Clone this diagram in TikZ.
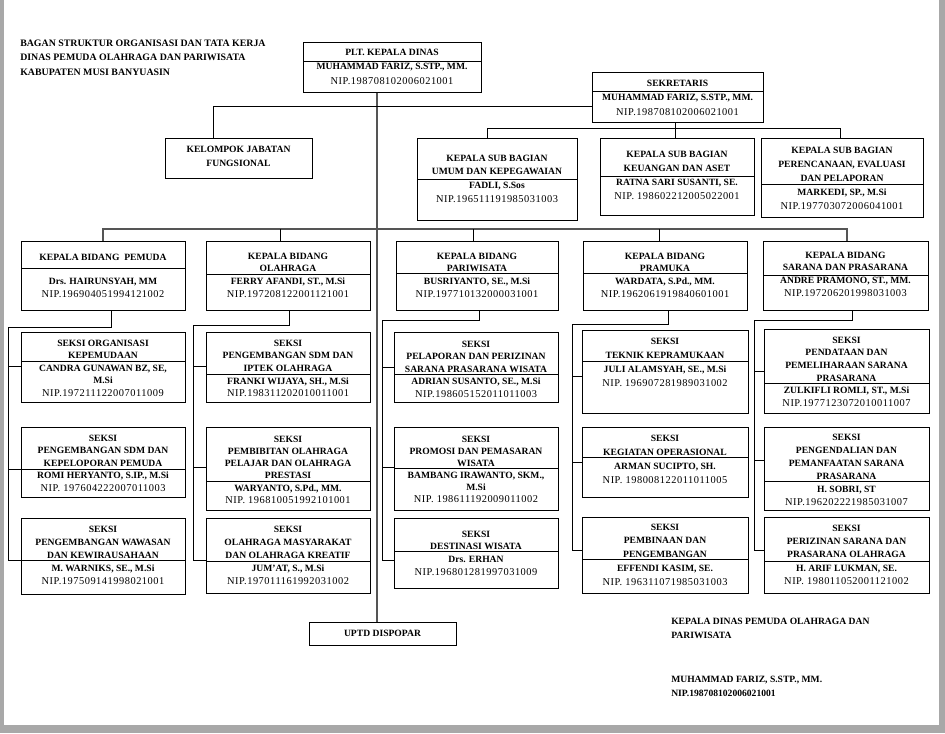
\documentclass[tikz,border=0pt]{standalone}
\usepackage{fontspec}
\setmainfont{Liberation Serif}
\newfontfamily\nipfont[LetterSpace=5]{Liberation Serif}
\usetikzlibrary{fit}
\definecolor{pagegray}{HTML}{A8A8A8}
\definecolor{linegray}{HTML}{555555}
\newcommand\nip[1]{{\nipfont\mdseries\fontsize{7.8}{\the\baselineskip}\selectfont #1}}
\tikzset{
  boxsty/.style={draw=black, line width=0.75pt, inner sep=0pt, fill=none},
  divsty/.style={draw=black, line width=0.75pt},
  conn/.style={draw=black, line width=0.75pt},
  conng/.style={draw=linegray, line width=0.9pt},
  txtsty/.style={inner sep=0pt, align=center},
  plaintxt/.style={inner sep=0pt, align=left, anchor=north west}
}
% #1 baselineskip (pt), #2 name, #3 x1, #4 y1, #5 x2, #6 y2, #7 divider y, #8 first line y, #9 text
\newcommand\ob[9][9.4]{%
  \node[boxsty, fit={(#3,#4)(#5,#6)}] (#2) {};
  \draw[divsty] (#3,#7) -- (#5,#7);
  \node[txtsty, anchor=north, font={\fontsize{7.2}{#1}\selectfont\bfseries}] (#2-t) at ({(#3+#5)/2},{#8-3.6}) {#9};
}
\begin{document}
\begin{tikzpicture}[x=0.75pt,y=-0.75pt]
\useasboundingbox (0,0) rectangle (945,733);
\fill[pagegray] (0,0) rectangle (945,733);
\fill[white] (4,0) rectangle (939,725);

% title
\node[plaintxt, font={\fontsize{7.4}{10.9}\selectfont\bfseries}] (title) at (20,39.5)
  {BAGAN STRUKTUR ORGANISASI DAN TATA KERJA\\DINAS PEMUDA OLAHRAGA DAN PARIWISATA\\KABUPATEN MUSI BANYUASIN};

% top
\ob[10.9]{plt}{303}{42}{481}{92}{61}{52}{PLT. KEPALA DINAS\\MUHAMMAD FARIZ, S.STP., MM.\\\nip{NIP.198708102006021001}}
\node[boxsty, fit={(165,138)(312,178)}] (kel) {};
\node[txtsty, anchor=north, font={\fontsize{7.2}{10.5}\selectfont\bfseries}] (kel-t) at (238.5,145.4) {KELOMPOK JABATAN\\FUNGSIONAL};
\ob[10.9]{sek}{592}{72}{763}{122}{91}{83}{SEKRETARIS\\MUHAMMAD FARIZ, S.STP., MM.\\\nip{NIP.198708102006021001}}

% sub bagian
\ob[10.4]{umum}{417}{138}{577}{220}{179}{158}{KEPALA SUB BAGIAN\\UMUM DAN KEPEGAWAIAN\\FADLI, S.Sos\\\nip{NIP.196511191985031003}}
\ob[10.7]{keu}{600}{138}{754}{215}{176}{154}{KEPALA SUB BAGIAN\\KEUANGAN DAN ASET\\RATNA SARI SUSANTI, SE.\\\nip{NIP. 198602212005022001}}
\ob[10.6]{pren}{761}{138}{923}{217}{184}{150}{KEPALA SUB BAGIAN\\PERENCANAAN, EVALUASI\\DAN PELAPORAN\\MARKEDI, SP., M.Si\\\nip{NIP.197703072006041001}}

% bidang
\ob[9.2]{pemuda}{21}{241}{185}{310}{268}{257}{KEPALA BIDANG\ \ PEMUDA\\[9.4pt]Drs. HAIRUNSYAH, MM\\\nip{NIP.196904051994121002}}
\ob[9.5]{olah}{206}{241}{370}{310}{274}{256}{KEPALA BIDANG\\OLAHRAGA\\FERRY AFANDI, ST., M.Si\\\nip{NIP.197208122001121001}}
\ob[9.5]{pari}{396}{241}{558}{310}{273}{256}{KEPALA BIDANG\\PARIWISATA\\BUSRIYANTO, SE., M.Si\\\nip{NIP.197710132000031001}}
\ob[9.5]{pram}{583}{241}{747}{310}{273}{256}{KEPALA BIDANG\\PRAMUKA\\WARDATA, S.Pd., MM.\\\nip{NIP.1962061919840601001}}
\ob[9.7]{sarana}{763}{241}{928}{310}{275}{255}{KEPALA BIDANG\\SARANA DAN PRASARANA\\ANDRE PRAMONO, ST., MM.\\\nip{NIP.197206201998031003}}

% seksi pemuda
\ob[9.4]{o1}{21}{332}{185}{402}{361}{343}{SEKSI ORGANISASI\\KEPEMUDAAN\\CANDRA GUNAWAN BZ, SE,\\M.Si\\\nip{NIP.197211122007011009}}
\ob[9.4]{o2}{21}{427}{185}{497}{469}{438}{SEKSI\\PENGEMBANGAN SDM DAN\\KEPELOPORAN PEMUDA\\ROMI HERYANTO, S.IP., M.Si\\\nip{NIP. 197604222007011003}}
\ob[9.8]{o3}{21}{518}{185}{594}{560}{529}{SEKSI\\PENGEMBANGAN WAWASAN\\DAN KEWIRAUSAHAAN\\M. WARNIKS, SE., M.Si\\\nip{NIP.197509141998021001}}
% seksi olahraga
\ob[9.5]{l1}{206}{332}{370}{402}{374}{343}{SEKSI\\PENGEMBANGAN SDM DAN\\IPTEK OLAHRAGA\\FRANKI WIJAYA, SH., M.Si\\\nip{NIP.198311202010011001}}
\ob[9.2]{l2}{206}{427}{370}{510}{481}{439}{SEKSI\\PEMBIBITAN OLAHRAGA\\PELAJAR DAN OLAHRAGA\\PRESTASI\\WARYANTO, S.Pd., MM.\\\nip{NIP. 196810051992101001}}
\ob[9.8]{l3}{206}{518}{370}{593}{561}{529}{SEKSI\\OLAHRAGA MASYARAKAT\\DAN OLAHRAGA KREATIF\\JUM’AT, S., M.Si\\\nip{NIP.197011161992031002}}
% seksi pariwisata
\ob[9.4]{p1}{394}{332}{558}{402}{374}{344}{SEKSI\\PELAPORAN DAN PERIZINAN\\SARANA PRASARANA WISATA\\ADRIAN SUSANTO, SE., M.Si\\\nip{NIP.198605152011011003}}
\ob[9.0]{p2}{394}{427}{558}{510}{468}{439}{SEKSI\\PROMOSI DAN PEMASARAN\\WISATA\\BAMBANG IRAWANTO, SKM.,\\M.Si\\\nip{NIP. 198611192009011002}}
\ob[9.5]{p3}{394}{518}{558}{588}{551}{534}{SEKSI\\DESTINASI WISATA\\Drs. ERHAN\\\nip{NIP.196801281997031009}}
% seksi pramuka
\ob[10.5]{k1}{582}{330}{748}{413}{361}{341}{SEKSI\\TEKNIK KEPRAMUKAAN\\JULI ALAMSYAH, SE., M.Si\\\nip{NIP. 196907281989031002}}
\ob[10.5]{k2}{582}{427}{748}{497}{457}{438}{SEKSI\\KEGIATAN OPERASIONAL\\ARMAN SUCIPTO, SH.\\\nip{NIP. 198008122011011005}}
\ob[10.4]{k3}{582}{517}{748}{593}{559}{527}{SEKSI\\PEMBINAAN DAN\\PENGEMBANGAN\\EFFENDI KASIM, SE.\\\nip{NIP. 196311071985031003}}
% seksi sarana
\ob[9.5]{s1}{764}{329}{929}{413}{383}{340}{SEKSI\\PENDATAAN DAN\\PEMELIHARAAN SARANA\\PRASARANA\\ZULKIFLI ROMLI, ST., M.Si\\\nip{NIP.1977123072010011007}}
\ob[9.75]{s2}{764}{427}{929}{510}{481}{437}{SEKSI\\PENGENDALIAN DAN\\PEMANFAATAN SARANA\\PRASARANA\\H. SOBRI, ST\\\nip{NIP.196202221985031007}}
\ob[10.1]{s3}{764}{517}{929}{593}{561}{528}{SEKSI\\PERIZINAN SARANA DAN\\PRASARANA OLAHRAGA\\H. ARIF LUKMAN, SE.\\\nip{NIP. 198011052001121002}}

% uptd
\node[boxsty, fit={(309,622)(456,645)}] (uptd) {};
\node[txtsty, font={\fontsize{7.2}{9}\selectfont\bfseries}] (uptd-t) at (uptd.center) {UPTD DISPOPAR};

% signature
\node[plaintxt, font={\fontsize{7.2}{11.2}\selectfont\bfseries}] (sig1) at (671,617.4) {KEPALA DINAS PEMUDA OLAHRAGA DAN\\PARIWISATA};
\node[plaintxt, font={\fontsize{7.2}{10.5}\selectfont\bfseries}] (sig2) at (671,675.4) {MUHAMMAD FARIZ, S.STP., MM.\\NIP.198708102006021001};

% ---- connectors ----
\coordinate (mx) at (377,0);
\draw[conng] (mx |- plt.south) -- (mx |- uptd.north);
\coordinate (kx) at (213,106);
\draw[conn] (kx |- kel.north) -- (kx) -- (kx -| sek.west);

\coordinate (sx) at (675,128);
\coordinate (sl) at (487,128);
\coordinate (sr) at (840,128);
\draw[conn] (sx |- sek.south) -- (sx |- keu.north);
\draw[conn] (sl |- umum.north) -- (sl) -- (sr) -- (sr |- pren.north);

\coordinate (bl) at (103,229);
\coordinate (br) at (847,229);
\coordinate (b2) at (280,229);
\coordinate (b3) at (473,229);
\coordinate (b4) at (659,229);
\draw[conng] (bl |- pemuda.north) -- (bl) -- (br) -- (br |- sarana.north);
\draw[conn] (b2) -- (b2 |- olah.north);
\draw[conn] (b3) -- (b3 |- pari.north);
\draw[conn] (b4) -- (b4 |- pram.north);

% pemuda children
\coordinate (c1a) at (111,327); \coordinate (c1b) at (8,327);
\coordinate (o1j) at (8,366); \coordinate (o2j) at (8,469); \coordinate (o3j) at (8,560);
\draw[conn] (c1a |- pemuda.south) -- (c1a) -- (c1b) -- (o3j) -- (o3j -| o3.west);
\draw[conn] (o1j) -- (o1j -| o1.west);
\draw[conn] (o2j) -- (o2j -| o2.west);
% olahraga children
\coordinate (c2a) at (289,325); \coordinate (c2b) at (193,325);
\coordinate (l1j) at (193,366); \coordinate (l2j) at (193,467); \coordinate (l3j) at (193,560);
\draw[conn] (c2a |- olah.south) -- (c2a) -- (c2b) -- (l3j) -- (l3j -| l3.west);
\draw[conn] (l1j) -- (l1j -| l1.west);
\draw[conn] (l2j) -- (l2j -| l2.west);
% pariwisata children
\coordinate (c3a) at (479,320); \coordinate (c3b) at (382,320);
\coordinate (p1j) at (382,367); \coordinate (p2j) at (382,467); \coordinate (p3j) at (382,560);
\draw[conn] (c3a |- pari.south) -- (c3a) -- (c3b) -- (p3j) -- (p3j -| p3.west);
\draw[conn] (p1j) -- (p1j -| p1.west);
\draw[conn] (p2j) -- (p2j -| p2.west);
% pramuka children
\coordinate (c4a) at (668,324); \coordinate (c4b) at (572,324);
\coordinate (k1j) at (572,376); \coordinate (k2j) at (572,462); \coordinate (k3j) at (572,550);
\draw[conn] (c4a |- pram.south) -- (c4a) -- (c4b) -- (k3j) -- (k3j -| k3.west);
\draw[conn] (k1j) -- (k1j -| k1.west);
\draw[conn] (k2j) -- (k2j -| k2.west);
% sarana children
\coordinate (c5a) at (852,320); \coordinate (c5b) at (754,320);
\coordinate (s1j) at (754,371); \coordinate (s2j) at (754,460); \coordinate (s3j) at (754,550);
\draw[conn] (c5a |- sarana.south) -- (c5a) -- (c5b) -- (s3j) -- (s3j -| s3.west);
\draw[conn] (s1j) -- (s1j -| s1.west);
\draw[conn] (s2j) -- (s2j -| s2.west);
\end{tikzpicture}
\end{document}
